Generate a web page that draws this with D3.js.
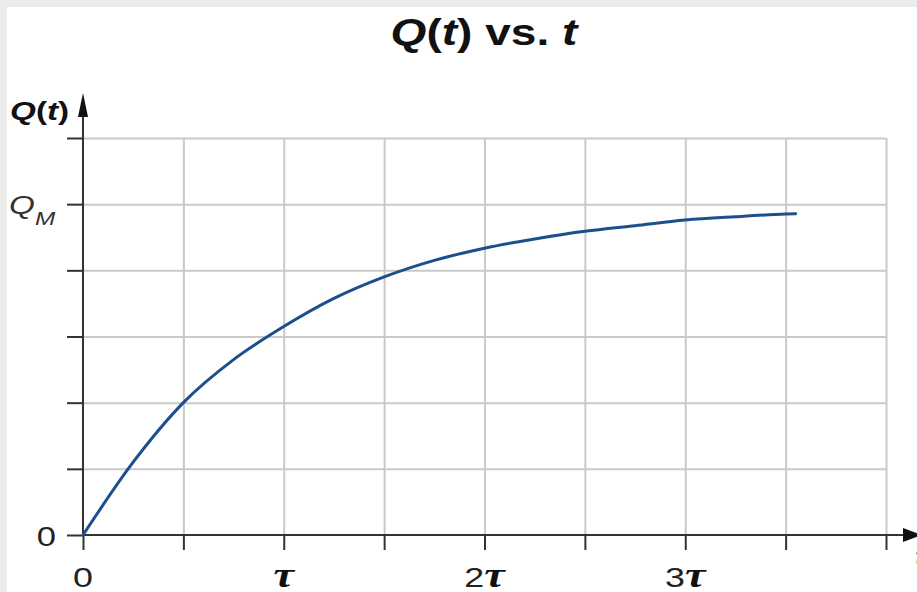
<!DOCTYPE html>
<html><head><meta charset="utf-8">
<script src="https://cdn.jsdelivr.net/npm/d3@7"></script>
<style>body{margin:0;background:#ebebeb;} svg{display:block}</style>
</head><body><svg id="c" width="917" height="592"></svg>
<script>
// Data (t in units of tau, Q in units of Q_M)
const tValues = [0, 0.25, 0.5, 0.75, 1, 1.25, 1.5, 1.75, 2, 2.25, 2.5, 2.75, 3, 3.25, 3.5, 3.55];
const qValues = [0, 0.22, 0.40, 0.53, 0.63, 0.715, 0.78, 0.83, 0.867, 0.895, 0.918, 0.935, 0.952, 0.962, 0.970, 0.971];
const xGridValues = [0, 0.5, 1, 1.5, 2, 2.5, 3, 3.5, 4];
const yGridValues = [0, 0.2, 0.4, 0.6, 0.8, 1.0, 1.2];
const xLabelValues = [0, 1, 2, 3];
const xLabelNums = ["0", "", "2", "3"];
const xLabelTau = [false, true, true, true];
const yLabelValues = [0, 1];

const svg = d3.select("#c");
const SX = 1.28;
const x = d3.scaleLinear().domain([0, 4]).range([83, 886]);
const y = d3.scaleLinear().domain([0, 1.2]).range([535, 138]);

svg.append("rect").attr("x", 7).attr("y", 7).attr("width", 910).attr("height", 585).attr("fill", "#fff");

// grid
svg.append("g").attr("transform", `translate(0,${y(0)})`)
  .call(d3.axisBottom(x).tickValues(xGridValues.slice(1)).tickSize(-(y(0) - y(1.2))).tickFormat(""))
  .call(g => { g.select(".domain").remove(); g.selectAll("line").attr("stroke", "#c9c9c9").attr("stroke-width", 2); });
svg.append("g").attr("transform", `translate(${x(0)},0)`)
  .call(d3.axisLeft(y).tickValues(yGridValues.slice(1)).tickSize(-(x(4) - x(0))).tickFormat(""))
  .call(g => { g.select(".domain").remove(); g.selectAll("line").attr("stroke", "#c9c9c9").attr("stroke-width", 2); });

// axis ticks
svg.append("g").attr("transform", `translate(0,${y(0)})`)
  .call(d3.axisBottom(x).tickValues(xGridValues).tickSize(15).tickFormat(""))
  .call(g => { g.select(".domain").remove(); g.selectAll("line").attr("stroke", "#333").attr("stroke-width", 2); });
svg.append("g").attr("transform", `translate(${x(0)},0)`)
  .call(d3.axisLeft(y).tickValues(yGridValues).tickSize(16).tickFormat(""))
  .call(g => { g.select(".domain").remove(); g.selectAll("line").attr("stroke", "#333").attr("stroke-width", 2); });

// axis lines with arrows
svg.append("line").attr("x1", x(0)).attr("x2", 905).attr("y1", y(0)).attr("y2", y(0)).attr("stroke", "#333").attr("stroke-width", 2);
svg.append("path").attr("d", `M903,${y(0)-7}L922,${y(0)}L903,${y(0)+7}Z`).attr("fill", "#111");
svg.append("line").attr("x1", x(0)).attr("x2", x(0)).attr("y1", y(0)+1).attr("y2", 115).attr("stroke", "#333").attr("stroke-width", 2);
svg.append("path").attr("d", `M${x(0)-5},117L${x(0)},93L${x(0)+5},117Z`).attr("fill", "#111");

// curve
const pts = tValues.map((t, i) => [t, qValues[i]]);
svg.append("path").datum(pts)
  .attr("d", d3.line().x(d => x(d[0])).y(d => y(d[1])).curve(d3.curveMonotoneX))
  .attr("fill", "none").attr("stroke", "#1c4f8c").attr("stroke-width", 3).attr("stroke-linecap", "round");

const sans = "'Liberation Sans', Arial, sans-serif";
const serif = "'Liberation Serif', 'Times New Roman', serif";

// title
const title = svg.append("text").attr("transform", `translate(484,45) scale(${SX},1)`)
  .attr("text-anchor", "middle").attr("font-family", sans).attr("font-weight", "bold").attr("font-size", 36).attr("fill", "#111");
title.append("tspan").attr("font-style", "italic").text("Q");
title.append("tspan").text("(");
title.append("tspan").attr("font-style", "italic").text("t");
title.append("tspan").text(") vs. ");
title.append("tspan").attr("font-style", "italic").text("t");

// y axis title
const yt = svg.append("text").attr("transform", `translate(10,120) scale(${SX},1)`)
  .attr("font-family", sans).attr("font-weight", "bold").attr("font-size", 26).attr("fill", "#111");
yt.append("tspan").attr("font-style", "italic").text("Q");
yt.append("tspan").text("(");
yt.append("tspan").attr("font-style", "italic").text("t");
yt.append("tspan").text(")");

// y labels
yLabelValues.forEach(v => {
  if (v === 0) {
    svg.append("text").attr("transform", `translate(56,${y(v) + 11}) scale(${SX},1)`)
      .attr("text-anchor", "end").attr("font-family", sans).attr("font-size", 27).attr("fill", "#222").text("0");
  } else {
    const t = svg.append("text").attr("transform", `translate(9,${y(v) + 10}) scale(${SX},1)`)
      .attr("font-family", sans).attr("font-size", 26).attr("fill", "#333");
    t.append("tspan").attr("font-style", "italic").text("Q");
    t.append("tspan").attr("font-style", "italic").attr("font-size", 19).attr("dy", 11).text("M");
  }
});

// x labels
xLabelValues.forEach((v, i) => {
  const t = svg.append("text").attr("transform", `translate(${x(v)},587) scale(${SX},1)`)
    .attr("text-anchor", "middle").attr("font-family", sans).attr("font-size", 28).attr("fill", "#222");
  if (xLabelNums[i]) t.append("tspan").text(xLabelNums[i]);
  if (xLabelTau[i]) t.append("tspan").attr("font-family", serif).attr("font-style", "italic").attr("font-weight", "bold").attr("font-size", 36).attr("fill", "#111").text("τ");
});

// clipped x-axis title at right edge
svg.append("text").attr("transform", `translate(915,565) scale(${SX},1)`)
  .attr("font-family", sans).attr("font-weight", "bold").attr("font-style", "italic").attr("font-size", 24).attr("fill", "#111").text("t");
</script></body></html>
